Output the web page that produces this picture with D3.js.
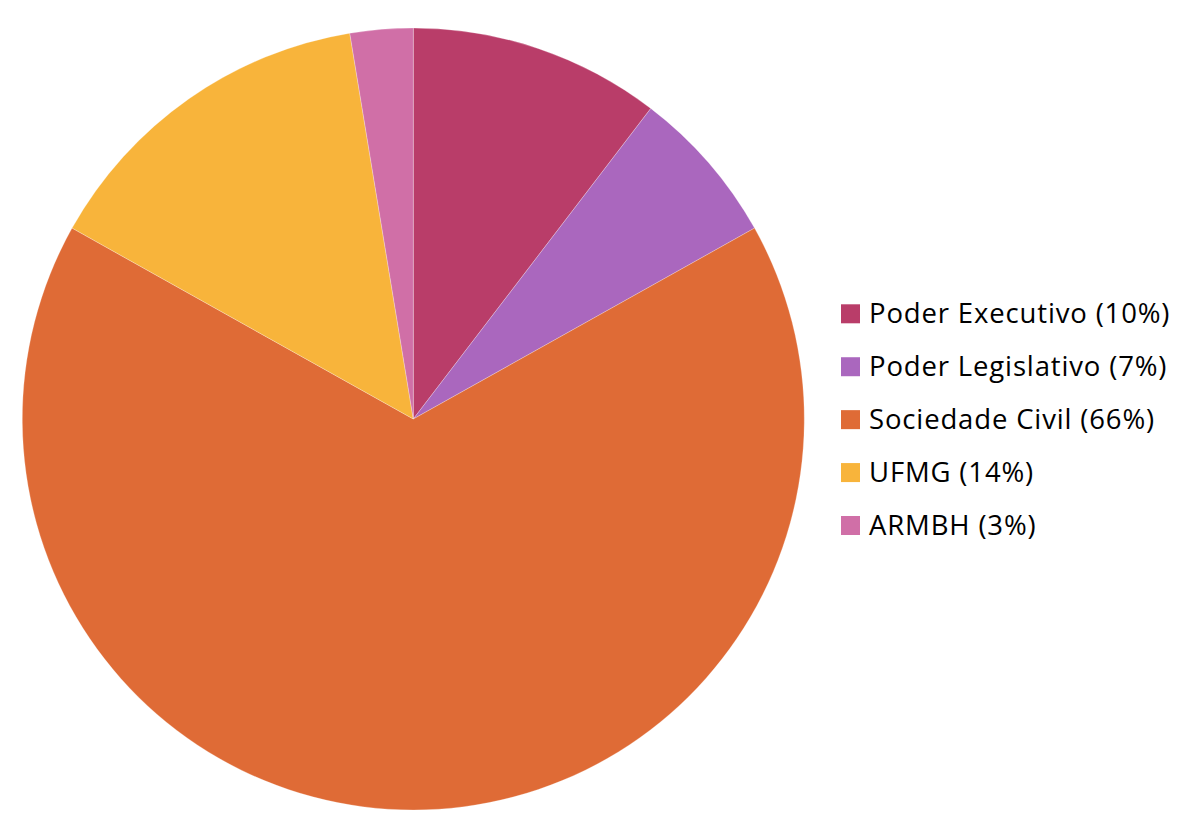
<!DOCTYPE html>
<html><head><meta charset="utf-8">
<script src="https://cdn.jsdelivr.net/npm/d3@7"></script>
<style>body{margin:0;background:#fff;}svg{display:block;}</style>
</head><body>
<svg id="chart" width="1193" height="839"></svg>
<script>
const categories = ["Poder Executivo", "Poder Legislativo", "Sociedade Civil", "UFMG", "ARMBH"];
const values = [8, 5, 51, 11, 2];
const legendLabels = ["Poder Executivo (10%)", "Poder Legislativo (7%)", "Sociedade Civil (66%)", "UFMG (14%)", "ARMBH (3%)"];
const colors = ["#B93D69", "#AA67BE", "#DF6B36", "#F8B43B", "#D06FA7"];

const svg = d3.select("#chart");
const cx = 413.3, cy = 419, r = 391;
const color = d3.scaleOrdinal().domain(categories).range(colors);
const pie = d3.pie().sort(null).value(d => d.v);
const data = categories.map((c, i) => ({c, v: values[i]}));
const arc = d3.arc().innerRadius(0).outerRadius(r);

svg.append("g").attr("transform", `translate(${cx},${cy})`)
  .selectAll("path").data(pie(data)).join("path")
  .attr("d", arc).attr("fill", d => color(d.data.c))
  .attr("stroke", "#fff").attr("stroke-width", 0.5).attr("stroke-opacity", 0.5);

const legendY = d3.scalePoint().domain(categories).range([313.8, 525.5]);
const lg = svg.append("g");
const items = lg.selectAll("g").data(categories).join("g")
  .attr("transform", d => `translate(841,${legendY(d)})`);
items.append("rect").attr("x", 0).attr("y", -9.5).attr("width", 19).attr("height", 19)
  .attr("fill", d => color(d));
items.append("text").attr("x", 28).attr("y", 9.5)
  .attr("font-family", "'Open Sans', sans-serif").attr("font-size", 27.5)
  .attr("letter-spacing", 0.85)
  .attr("fill", "#000")
  .text((d, i) => legendLabels[i]);
</script>
</body></html>
